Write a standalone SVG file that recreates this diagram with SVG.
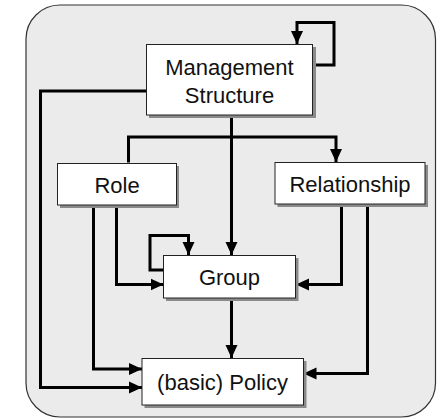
<svg xmlns="http://www.w3.org/2000/svg" width="439" height="419" viewBox="0 0 439 419">
  <style>
    .box { fill: #ffffff; stroke: #222222; stroke-width: 1; }
    .shadow { fill: #8a8a8a; }
    .label { font-family: "Liberation Sans", Arial, sans-serif; font-size: 22px; fill: #111111; text-anchor: middle; }
    .conn { fill: none; stroke: #000000; stroke-width: 3; stroke-linejoin: miter; }
  </style>
  <defs>
    <marker id="arrow" markerUnits="userSpaceOnUse" markerWidth="14" markerHeight="14" viewBox="0 0 14 14" refX="13" refY="7" orient="auto">
      <path d="M0,1 L13,7 L0,13 Z" fill="#000000"/>
    </marker>
  </defs>

  <!-- frame -->
  <rect x="26" y="5" width="409.5" height="412" rx="34" ry="34" fill="#ebebeb" stroke="#333333" stroke-width="1.2"/>

  <!-- connectors -->
  <g id="connectors">
    <path class="conn" d="M313,65 H334 V22.5 H297 V44" marker-end="url(#arrow)"/>
    <path class="conn" d="M146,91 H40.5 V387.5 H142" marker-end="url(#arrow)"/>
    <path class="conn" d="M231.5,115 V255" marker-end="url(#arrow)"/>
    <path class="conn" d="M128.5,162.5 V137 H336 V162" marker-end="url(#arrow)"/>
    <path class="conn" d="M116.5,205 V284.5 H163.5" marker-end="url(#arrow)"/>
    <path class="conn" d="M93.5,205 V369 H142" marker-end="url(#arrow)"/>
    <path class="conn" d="M341.5,204 V284.5 H296" marker-end="url(#arrow)"/>
    <path class="conn" d="M367.5,204 V373.5 H303.5" marker-end="url(#arrow)"/>
    <path class="conn" d="M163.5,270 H150 V235.5 H188.5 V255" marker-end="url(#arrow)"/>
    <path class="conn" d="M231.5,298 V358" marker-end="url(#arrow)"/>
  </g>

  <!-- nodes -->
  <g id="management-structure">
    <rect class="shadow" x="149" y="47" width="167" height="71"/>
    <rect class="box" x="146.5" y="44.5" width="166" height="70.5"/>
    <text class="label" x="229.5" y="75">Management</text>
    <text class="label" x="229.5" y="102.5">Structure</text>
  </g>
  <g id="role">
    <rect class="shadow" x="60" y="166" width="119" height="42"/>
    <rect class="box" x="57.5" y="163.5" width="119" height="41.5"/>
    <text class="label" x="117" y="192.5">Role</text>
  </g>
  <g id="relationship">
    <rect class="shadow" x="277.5" y="165" width="150.5" height="42"/>
    <rect class="box" x="275" y="162.5" width="150" height="41.5"/>
    <text class="label" x="350" y="191.5">Relationship</text>
  </g>
  <g id="group">
    <rect class="shadow" x="166" y="258" width="132.5" height="43"/>
    <rect class="box" x="163.5" y="255.5" width="132" height="42.5"/>
    <text class="label" x="229.5" y="285">Group</text>
  </g>
  <g id="basic-policy">
    <rect class="shadow" x="144.5" y="361" width="162" height="47"/>
    <rect class="box" x="142" y="358.5" width="161.5" height="46.5"/>
    <text class="label" x="222.5" y="389.5">(basic) Policy</text>
  </g>
</svg>
